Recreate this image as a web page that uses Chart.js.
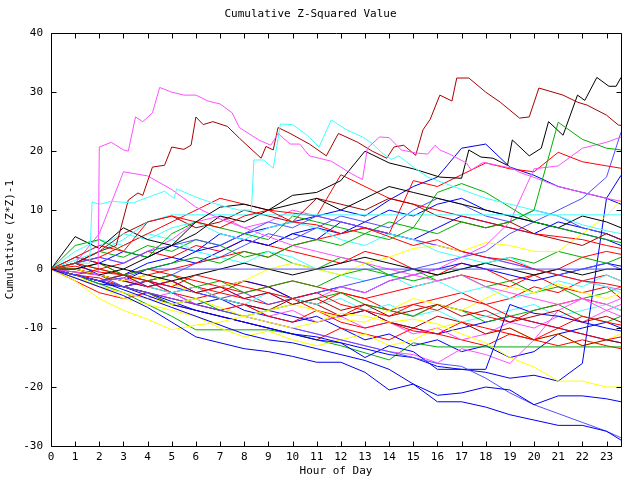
<!DOCTYPE html>
<html>
<head>
<meta charset="utf-8">
<script src="https://cdn.jsdelivr.net/npm/chart.js@4.4.0/dist/chart.umd.min.js"></script>
<style>
  html, body { margin: 0; padding: 0; background: #ffffff; }
</style>
</head>
<body>
<canvas id="chart" width="640" height="480"></canvas>
<script>
// x positions (hour of day) shared by most series
const hours = [0,1,2,3,4,5,6,7,8,9,10,11,12,13,14,15,16,17,18,19,20,21,22,23,23.6];
const hourTicks = [0,1,2,3,4,5,6,7,8,9,10,11,12,13,14,15,16,17,18,19,20,21,22,23];
const yTicks = [-30,-20,-10,0,10,20,30,40];

// the few lines that stand out get their own, finer readings
const magenta1Hours = [0,1,1.95,2,2.5,3,3.2,3.5,3.8,4.2,4.5,5,5.5,6,6.5,7,7.5,7.8,8.6,9.1,9.4,9.9,10.3,10.7,11.1,11.6,12,12.3,12.7,12.9,13.1,13.6,14,14.5,15.1,15.6,15.9,16.1,16.5,17.2,17.4,17.9,18.6,19.1,19.4,20.1,21,22,23,23.6];
const magenta1 = [0,-0.5,-1,20.7,21.5,20.2,20,25.8,25,26.5,30.8,30,29.5,29.5,28.5,28,26.5,24,21.9,21,23,21.2,21.2,19.2,18.8,18.3,17.3,16.5,15.6,15.2,20.5,22.4,22.3,20.2,19.7,19.5,21,20.2,19.5,18,16.8,18.1,17.5,17.1,16.4,15.4,14,13,12,11.5];

const darkred1Hours = [0,1,2,2.7,3.2,3.6,3.8,4.2,4.7,5,5.5,5.8,6,6.3,6.7,7.3,7.8,8.7,8.9,9.2,9.4,9.9,10.7,11.4,11.9,12.7,13.3,13.9,14.2,14.6,15.1,15.4,15.7,16.1,16.6,16.8,17.3,18,18.6,19.4,19.8,20.2,21.2,21.8,22.2,23,23.5,23.6];
const darkred1 = [0,1,3,4,11.7,12.9,12.5,17.3,17.6,20.7,20.3,21,25.8,24.5,25,24.2,22.2,18.8,20.8,20.2,24,23,21.2,19.2,23,21.5,20,18.8,20.7,21,19.3,23.6,25.4,29.5,28.5,32.4,32.4,30,28.3,25.6,25.8,30.7,29.5,28.3,27.8,26.1,24.4,24.4];

const black1Hours = [0,1,2,3,4,5,6,7,8,9,10,11,12,13,14,15,16.1,17,17.3,17.8,18.3,18.9,19.1,19.8,20.3,20.6,21.2,21.8,22.1,22.6,23.1,23.4,23.6];
const black1 = [0,-0.5,-1,0,2,4,8,10.5,11,10,12.5,13,15,20,18,17,15.6,15.4,20.2,19,18.8,17.6,21.9,19.2,20.5,25,22.7,29.5,28.6,32.5,31,31,32.5];

const cyan1Hours = [0,1,1.6,1.7,2,2.5,3.4,3.7,4.7,5.1,5.2,6,6.7,7.3,7.8,8.3,8.4,8.8,9.2,9.5,10,10.6,11.1,11.6,12.2,12.9,13.3,13.7,14.1,14.4,15,15.6,16,17,18,19,20,21,22,23,23.6];
const cyan1 = [0,1,1,11.4,11,11.5,11.2,11.7,13.2,12,13.6,12.2,11.2,10.5,10,10,18.5,18.5,17.1,24.6,24.5,22.7,20.7,25.3,23.7,22.4,21.3,19.7,18.6,19.2,17.3,15.6,15,13.5,12,11,10,9,7.5,6.5,6];

const magenta2 = [0,1,6,16.5,15.8,13.5,10.5,8.5,7,5.5,4,3,2,1,0,-1,-2,-1,-3,-4,-5,-6,-5,-7,-8];
const magenta3 = [0,-1,-2,-1.5,-3,-2,-4,-3,-5,-4,-6,-5,-3,-4,-2,-1,0,2,4,8,17,17.5,20.5,21.5,22.4];
const magenta4 = [0,-1,-2,-3,-4,-5,-6,-7,-8,-9,-10,-11,-12,-13,-14,-14.5,-15.9,-13.5,-14.5,-16,-12,-7,-5,-6,-5];
const magenta5 = [0,1,2,1,3,5,8,9,7,8,10,9,8,7,6,5,4,3,2,1,0,-1,-2,-3,-3.5];
const magenta6 = [0,-1.5,-3,-4,-5,-4,-6,-7,-6,-8,-7,-9,-8,-10,-9,-11,-10,-12,-11,-9,-10,-8,-9,-7,-6];

const darkred2 = [0,-1,-2,-1,-3,-2,-4,-3,-5,-4,-6,-5,-7,-6,-8,-7,-6,-8,-7,-9,-8,-7,-9,-8,-9];
const darkred3 = [0,1,3,6,8,9,7,8,10,9,8,12,11,10,12,11,9,8,7,8,6,5,4,6,5];
const darkred4 = [0,0,-1,-2,-3,-4,-3,-5,-6,-7,-5,-6,-8,-7,-9,-10,-8,-9,-11,-10,-12,-11,-13,-12,-12.5];

const black2 = [0,5.5,3.5,7,5,4,6,9,8,10,11,12,10,12,14,13,12,11,10,9,8,7,9,8,7];
const black3 = [0,0,1,0,-1,-2,-1,0,1,0,-1,0,1,2,1,0,-1,0,1,0,-1,0,-1,0,0];

const cyan2 = [0,1.5,3,5,8,9.2,9.2,9.2,9.2,9.2,9.2,9.2,9.2,9.2,9.2,9.2,9.2,9.2,9.2,9.2,9.2,9.2,9.2,9.2,9.2];
const cyan3 = [0,2,4,6,5,7,8,6,5,7,8,7,5,4,6,5,3,2,1,2,0,-1,-2,-3,-4];
const cyan4 = [0,-1,-2,-1,-3,-4,-3,-5,-6,-4,-5,-6,-5,-7,-6,-8,-7,-9,-8,-7,-6,-8,-7,-6,-7];
const cyan5 = [0,3,5,4,6,5,3,2,1,3,2,0,-1,-2,-1,-3,-2,-4,-3,-5,-4,-2,-3,-1,-2];

const lblue1 = [0,-1,-2,-1.5,0,0,0,0,0,0,0,0,0,0,0,0,0,0,0,0,0,0,0,0,0];
const lblue2 = [0,-1,-2,-3,-4,-5,-6,-7,-8,-9,-10,-11,-12,-13,-14,-15,-16,-16.5,-18.5,-21,-23,-24.5,-26,-27.5,-28.6];
const lblue3 = [0,1,2,1,3,4,5,4,6,8,7,9,8,7,6,5,4,3,2,1,0,-1,0,1,0];
const lblue4 = [0,-1,-2,-1,-3,-2,-4,-5,-4,-6,-5,-4,-3,-2,-1,0,1,2,3,6,8,10,12,15.6,23.2];
const lblue5 = [0,0,-1,-3,-2,-1,1,2,4,6,5,7,9,8,7,10,12,11,9,8,10,9,7,6,5];

const blue1 = [0,-1.5,-3,-4.5,-6.5,-9,-11.5,-12.5,-13.5,-14,-14.8,-15.8,-15.8,-17.5,-20.5,-19.5,-22.5,-22.5,-23.4,-24.7,-25.6,-26.5,-26.5,-27.5,-29];
const blue2 = [0,-1,-2,-3.5,-5,-6.5,-8,-9.5,-11,-12,-12.5,-13.5,-14.5,-15.5,-17,-19.5,-21.4,-21,-20,-20.5,-23,-21.5,-21.5,-22,-22.5];
const blue3 = [0,-1,-2,-3,-4,-5.5,-7,-8,-9,-10,-11,-11.5,-12.5,-15,-13,-14,-17,-17,-17,-6,-7.5,-8,-9,-10,-10.5];
const blue4 = [0,-1,-2,-3,-4.5,-6,-7,-8,-9,-10,-11,-12,-12.5,-13.5,-14.5,-15,-16.5,-17,-17.5,-18.5,-18,-19,-16,12,15.9];
const blue5 = [0,1,-1,-2,0,1,3,4,6,7,8,9,10,9,11.7,14,15.6,20.5,21.2,17.3,15.9,14,13,12,11];
const blue6 = [0,-1,-2,-1,1,2,1,3,5,4,6,7,6,8,10,9,11,12,10,9,8,7,6,5,4];
const blue7 = [0,0,-1,-2,-3,-2,-4,-3,-2,-3,-5,-4,-3,-4,-2,-1,0,1,0,-1,-2,-1,0,1,0.5];
const blue8 = [0,-1,-2,-3,-2,-3,-4,-5,-6,-7,-8,-9,-8,-7,-9,-10,-11,-10,-9,-8,-9,-10,-11,-12,-12.5];
const blue9 = [0,-1,-2.5,-3,-2,-4,-6,-5,-7,-8,-9,-8,-10,-12,-11,-13,-12,-14,-13,-15,-14,-11,-10,-9,-10];
const blue10 = [0,2,1,3,2,4,3,6,5,4,6,5,8,7,6,5,7,9,8,7,6,8,7,6,5];

const green1 = [0,1,0,-1,0,1,2,1,3,2,4,5,4,6,5,7,6,8,7,8,10,24.9,22,20.5,20.2];
const green2 = [0,4,5,3,2,6,8,7,6,5,9,8,7,6,8,7,13,14.5,13,10.5,8,7,6,5,4.5];
const green3 = [0,-1,-2,-3,-4,-6,-5,-7,-8,-7,-6,-5,-4,-6,-7,-8,-6,-7,-9,-8,-7,-6,-8,-9,-8];
const green4 = [0,0,1,-1,-2,-1,-3,-2,-4,-3,-2,-3,-1,0,-1,-2,-1,0,1,2,1,3,2,1,2];
const green5 = [0,-1,-2.5,-4,-6,-8,-10.3,-10.3,-10.3,-10.3,-11,-12,-13,-14.2,-15.4,-12.5,-13.2,-13.2,-13.2,-13.2,-13.2,-13.2,-13.2,-13.2,-13.2];
const green6 = [0,1,3,2,4,3,5,4,2,3,1,0,2,1,-1,0,-2,-1,-3,-2,-4,-3,-5,-4,-3];

const red1 = [0,1,0,-1,-2,-3,-1,-2,-3,-4,-5,-4,-6,-7,-8,-6,-7,-5,-6,-8,-9,-10,-8,-9,-9.5];
const red2 = [0,2,4,3,8,9,8,7,9,10,8,7.5,6,7,5.5,4,5,3,2,1.5,0,-1,-2,-2.5,-3];
const red3 = [0,-1,-2,-3,-4,-5,-6,-7,-6,-8,-9,-7,-9,-10,-9,-10.5,-11,-9,-10,-11,-12,-10,-11,-12,-11.5];
const red4 = [0,1,2,4,6,8,10,12,11,10,9.5,9,16,14,12,11,10,9,8,7,6,5.5,5,4,3.5];
const red5 = [0,0,-1,-2,-1,0,1,2,3,2,4,5,6,7,6,15,14,16,18,17,16.5,19.8,18.2,17.5,17.1];
const red6 = [0,-1,-1.5,-3,-2,-4,-5,-4,-5,-6,-5,-7,-8,-6,-7,-8,-6,-7,-8,-9,-7,-6,-5,-6,-7];
const red7 = [0,0.5,-0.5,-1,0,-1,-2,-3,-4,-3,-2,-3,-4,-5,-4,-3,-2,-1,-2,-3,-1,0,2,3,2.5];
const red8 = [0,-2,-4,-5,-4,-6,-7,-8,-9,-10,-11,-12,-10,-11,-12,-10,-11,-12,-13,-11,-12,-13,-12,-13,-13.5];
const red9 = [0,2,1,-1,-2,-1,-3,-4,-2,-3,-5,-6,-4,-5,-7,-6,-5,-4,-6,-5,-3,-4,-2,-1,-2];
const red10 = [0,-1,0,1,3,2,4,3,5,4,3,2,1,3,2,0,-1,1,0,-2,-1,-3,-4,-3,-5];

const yellow1 = [0,-2,-5,-7,-8.5,-10.3,-9.5,-9,-8,-9,-10,-9,-7.5,-8,-9,-8.5,-9.3,-11,-12.5,-15,-16.6,-19,-19,-20,-20];
const yellow2 = [0,-1,-3,-4,-5,-6,-5,-6.5,-8,-7,-6,-7,-8.5,-9,-7,-5,-6,-7,-5,-3,-4,-2.5,-4,-5,-4];
const yellow3 = [0,0,-1,-2,-1,-2.5,-4,-3,-2,0,1,0,-1,1,2,3.5,4,3,4.5,4,3,3,6,9,11.7];
const yellow4 = [0,-1.5,-3,-5,-6,-7,-8,-10,-11.5,-10.5,-12,-13,-12,-11,-13,-12,-10,-9,-11,-10,-12,-11,-13,-12,-11];

const colors = {
  red: '#ff0000', green: '#00b000', blue: '#0000f0', magenta: '#ff50ff',
  cyan: '#40ffff', darkred: '#a80000', black: '#000000', yellow: '#ffff00', lblue: '#5050ff'
};

// [colour, values, hours]
const series = [
  ['red', red1], ['green', green1], ['blue', blue1], ['magenta', magenta1, magenta1Hours], ['cyan', cyan1, cyan1Hours],
  ['darkred', darkred1, darkred1Hours], ['black', black1, black1Hours], ['yellow', yellow1], ['lblue', lblue1],
  ['red', red2], ['green', green2], ['blue', blue2], ['magenta', magenta2], ['cyan', cyan2],
  ['darkred', darkred2], ['black', black2], ['yellow', yellow2], ['lblue', lblue2],
  ['red', red3], ['green', green3], ['blue', blue3], ['magenta', magenta3], ['cyan', cyan3],
  ['darkred', darkred3], ['black', black3], ['yellow', yellow3], ['lblue', lblue3],
  ['red', red4], ['green', green4], ['blue', blue4], ['magenta', magenta4], ['cyan', cyan4],
  ['darkred', darkred4], ['yellow', yellow4], ['lblue', lblue4],
  ['red', red5], ['green', green5], ['blue', blue5], ['magenta', magenta5], ['cyan', cyan5],
  ['lblue', lblue5], ['red', red6], ['green', green6], ['blue', blue6], ['magenta', magenta6],
  ['red', red7], ['blue', blue7], ['red', red8], ['blue', blue8], ['red', red9], ['blue', blue9],
  ['red', red10], ['blue', blue10]
];

const monoFont = { family: "'DejaVu Sans Mono', 'Liberation Mono', monospace", size: 11, weight: 'normal' };

// gnuplot style frame with inward ticks on all four sides
const frameTicks = {
  id: 'frameTicks',
  afterDatasetsDraw(chart) {
    const { ctx, chartArea: a, scales: { x, y } } = chart;
    const L = Math.round(a.left) + 0.5, R = Math.round(a.right) + 0.5;
    const T = Math.round(a.top) + 0.5, B = Math.round(a.bottom) + 0.5;
    ctx.save();
    ctx.strokeStyle = '#000';
    ctx.lineWidth = 1;
    ctx.beginPath();
    ctx.rect(L, T, R - L, B - T);
    x.ticks.forEach((t) => {
      const px = Math.round(x.getPixelForValue(t.value)) + 0.5;
      ctx.moveTo(px, B); ctx.lineTo(px, B - 5);
      ctx.moveTo(px, T); ctx.lineTo(px, T + 5);
    });
    y.ticks.forEach((t) => {
      const py = Math.round(y.getPixelForValue(t.value)) + 0.5;
      ctx.moveTo(L, py); ctx.lineTo(L + 5, py);
      ctx.moveTo(R, py); ctx.lineTo(R - 5, py);
    });
    ctx.stroke();
    ctx.restore();
  }
};

new Chart(document.getElementById('chart'), {
  type: 'line',
  data: {
    datasets: series.map(([c, vals, xs], i) => ({
      label: 'run ' + (i + 1),
      data: (xs || hours).map((h, k) => ({ x: h, y: vals[k] })),
      borderColor: colors[c],
      borderWidth: 1,
      pointRadius: 0,
      tension: 0,
      fill: false
    }))
  },
  options: {
    responsive: false,
    animation: false,
    layout: { padding: { left: 0, right: 19, top: 0, bottom: 0 } },
    plugins: {
      legend: { display: false },
      tooltip: { enabled: false },
      title: {
        display: true,
        text: 'Cumulative Z-Squared Value',
        color: '#000',
        font: monoFont,
        padding: { top: 8, bottom: 12 }
      }
    },
    scales: {
      x: {
        type: 'linear',
        min: 0,
        max: 23.6,
        grid: { display: false, drawTicks: false },
        border: { display: false },
        ticks: { stepSize: 1, color: '#000', font: monoFont, padding: 5, maxRotation: 0, autoSkip: false },
        afterBuildTicks: (s) => { s.ticks = hourTicks.map((v) => ({ value: v })); },
        afterFit: (s) => { s.height = 34; },
        title: { display: true, text: 'Hour of Day', color: '#000', font: monoFont, padding: { top: 0, bottom: 2 } }
      },
      y: {
        min: -30,
        max: 40,
        grid: { display: false, drawTicks: false },
        border: { display: false },
        ticks: { stepSize: 10, color: '#000', font: monoFont, padding: 8 },
        afterBuildTicks: (s) => { s.ticks = yTicks.map((v) => ({ value: v })); },
        afterFit: (s) => { s.width = 51; },
        title: { display: true, text: 'Cumulative (Z*Z)-1', color: '#000', font: monoFont, padding: { top: 4, bottom: 0 } }
      }
    }
  },
  plugins: [frameTicks]
});
</script>
</body>
</html>
